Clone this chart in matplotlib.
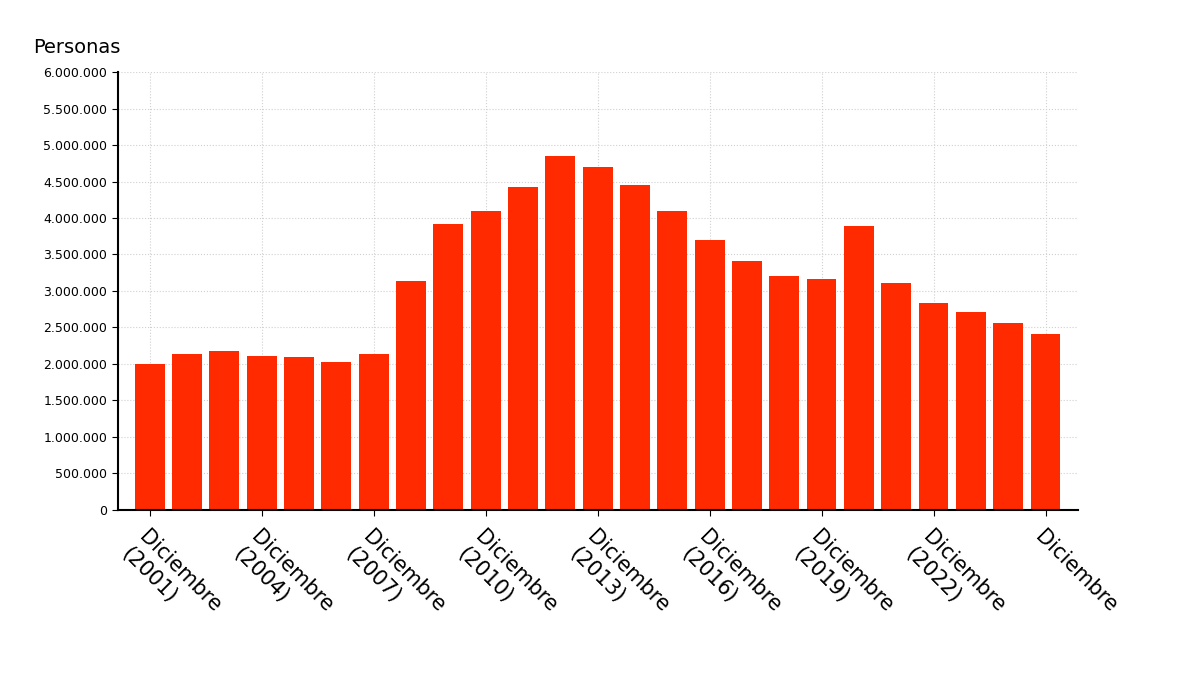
import matplotlib
matplotlib.use("Agg")
import matplotlib.pyplot as plt
from matplotlib.ticker import FuncFormatter

years = list(range(2001, 2026))
values = [1995000, 2130000, 2180000, 2110000, 2100000, 2020000, 2130000,
          3130000, 3920000, 4100000, 4420000, 4850000, 4700000, 4450000,
          4090000, 3700000, 3410000, 3200000, 3160000, 3890000, 3110000,
          2830000, 2710000, 2560000, 2410000]
tick_years = [2001, 2004, 2007, 2010, 2013, 2016, 2019, 2022, 2025]
tick_labels = ["Diciembre\n(%d)" % y for y in tick_years[:-1]] + ["Diciembre"]

fig = plt.figure(figsize=(12, 6.75), dpi=100)
ax = fig.add_axes([0.098, 0.245, 0.8, 0.648])

ax.bar(years, values, width=0.8, color="#ff2a00", zorder=3)
ax.set_xlim(2000.14, 2025.86)
ax.set_ylim(0, 6000000)
ax.set_yticks(range(0, 6000001, 500000))
ax.yaxis.set_major_formatter(FuncFormatter(lambda v, p: f"{int(v):,}".replace(",", ".")))
ax.set_xticks(tick_years)
ax.set_xticklabels(tick_labels, rotation=-45, ha="left", va="top",
                   rotation_mode="anchor", fontsize=15, linespacing=1.3)
ax.tick_params(axis="y", labelsize=9, length=4)
ax.tick_params(axis="x", length=4, pad=8)
ax.grid(True, color="#d0d0d0", linestyle=":", linewidth=0.8, zorder=0)

for s in ("top", "right"):
    ax.spines[s].set_visible(False)
ax.spines["left"].set_linewidth(1.5)
ax.spines["bottom"].set_linestyle((0, (1.5, 1)))
ax.spines["bottom"].set_linewidth(1.5)
ax.spines["bottom"].set_zorder(4)

fig.text(0.028, 0.915, "Personas", fontsize=14, ha="left", va="bottom")

fig.savefig("out.png", dpi=100, facecolor="white")
plt.close(fig)
